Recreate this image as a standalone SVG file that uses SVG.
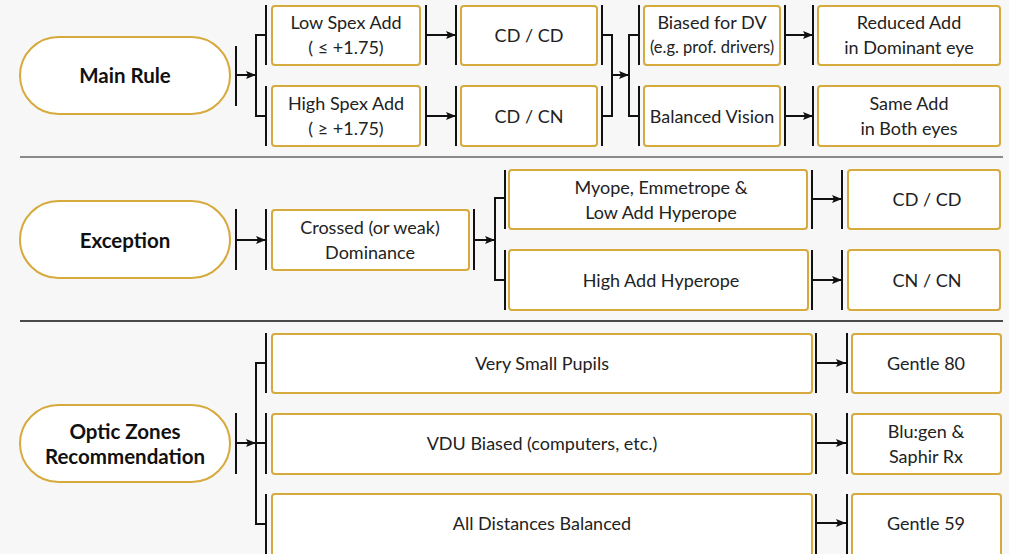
<svg xmlns="http://www.w3.org/2000/svg" width="1009" height="554" viewBox="0 0 1009 554">
<defs>
<marker id="ah" viewBox="0 0 10 10" refX="10" refY="5" markerWidth="10" markerHeight="10" markerUnits="userSpaceOnUse" orient="auto"><path d="M0,1 L10,5 L0,9 L2,5 Z" fill="#111"/></marker>
<style>
.bg{fill:#f7f7f7}
.pill{fill:#fff;stroke:#d6aa3c;stroke-width:2}
.box{fill:#fff;stroke:#d6aa3c;stroke-width:2}
.t{font-family:"Lato","Liberation Sans",sans-serif;font-size:18px;fill:#222;text-anchor:middle;dominant-baseline:central}
.ts{font-size:16.5px}
.tb{font-family:"Lato","Liberation Sans",sans-serif;font-size:20.5px;font-weight:bold;fill:#111;text-anchor:middle;dominant-baseline:central}
.bar{stroke:#111;stroke-width:2;fill:none}
.ln{stroke:#111;stroke-width:2;fill:none}
.arr{stroke:#111;stroke-width:2;fill:none;marker-end:url(#ah)}
.sep1{stroke:#666;stroke-width:1.5}
.sep2{stroke:#111;stroke-width:1.5}
</style>
</defs>
<rect class="bg" x="0" y="0" width="1009" height="554"/>
<line class="sep1" x1="20" y1="157" x2="1003" y2="157"/>
<line class="sep2" x1="20" y1="321" x2="1003" y2="321"/>

<g id="main-rule"><rect class="pill" x="20" y="37" width="210" height="77" rx="38.5"/><text class="tb" x="125" y="75">Main Rule</text></g>
<g id="low-spex"><rect class="box" x="272" y="6" width="148" height="59" rx="3"/><text class="t" x="346" y="22">Low Spex Add</text><text class="t" x="346" y="47">( ≤  +1.75)</text></g>
<g id="high-spex"><rect class="box" x="272" y="86" width="148" height="60" rx="3"/><text class="t" x="346" y="103">High Spex Add</text><text class="t" x="346" y="128">( ≥  +1.75)</text></g>
<g id="cdcd1"><rect class="box" x="461" y="6" width="136" height="59" rx="3"/><text class="t" x="529" y="35">CD / CD</text></g>
<g id="cdcn"><rect class="box" x="461" y="86" width="136" height="60" rx="3"/><text class="t" x="529" y="116">CD / CN</text></g>
<g id="biased-dv"><rect class="box" x="644" y="6" width="136" height="59" rx="3"/><text class="t" x="712" y="22">Biased for DV</text><text class="t ts" x="712" y="47">(e.g. prof. drivers)</text></g>
<g id="balanced-vision"><rect class="box" x="644" y="86" width="136" height="60" rx="3"/><text class="t" x="712" y="116">Balanced Vision</text></g>
<g id="reduced-add"><rect class="box" x="818" y="6" width="182" height="59" rx="3"/><text class="t" x="909" y="22">Reduced Add</text><text class="t" x="909" y="47">in Dominant eye</text></g>
<g id="same-add"><rect class="box" x="818" y="86" width="182" height="60" rx="3"/><text class="t" x="909" y="103">Same Add</text><text class="t" x="909" y="128">in Both eyes</text></g>

<g id="exception"><rect class="pill" x="20" y="201" width="210" height="77" rx="38.5"/><text class="tb" x="125" y="240">Exception</text></g>
<g id="crossed"><rect class="box" x="272" y="210" width="197" height="60" rx="3"/><text class="t" x="370" y="227">Crossed (or weak)</text><text class="t" x="370" y="252">Dominance</text></g>
<g id="myope"><rect class="box" x="509" y="170" width="298" height="59" rx="3"/><text class="t" x="661" y="187">Myope, Emmetrope &amp;</text><text class="t" x="661" y="212">Low Add Hyperope</text></g>
<g id="high-add"><rect class="box" x="509" y="250" width="299" height="60" rx="3"/><text class="t" x="661" y="280">High Add Hyperope</text></g>
<g id="cdcd2"><rect class="box" x="848" y="170" width="152" height="59" rx="3"/><text class="t" x="927" y="199">CD / CD</text></g>
<g id="cncn"><rect class="box" x="848" y="250" width="152" height="60" rx="3"/><text class="t" x="927" y="280">CN / CN</text></g>

<g id="optic-zones"><rect class="pill" x="20" y="405" width="210" height="77" rx="38.5"/><text class="tb" x="125" y="431">Optic Zones</text><text class="tb" x="125" y="456">Recommendation</text></g>
<g id="small-pupils"><rect class="box" x="272" y="334" width="540" height="59" rx="3"/><text class="t" x="542" y="363">Very Small Pupils</text></g>
<g id="vdu"><rect class="box" x="272" y="414" width="540" height="60" rx="3"/><text class="t" x="542" y="443">VDU Biased (computers, etc.)</text></g>
<g id="all-dist"><rect class="box" x="272" y="494" width="540" height="62" rx="3"/><text class="t" x="542" y="523">All Distances Balanced</text></g>
<g id="gentle80"><rect class="box" x="852" y="334" width="149" height="59" rx="3"/><text class="t" x="926" y="363">Gentle 80</text></g>
<g id="blugen"><rect class="box" x="852" y="414" width="149" height="60" rx="3"/><text class="t" x="926" y="431">Blu:gen &amp;</text><text class="t" x="926" y="456">Saphir Rx</text></g>
<g id="gentle59"><rect class="box" x="852" y="494" width="149" height="62" rx="3"/><text class="t" x="926" y="523">Gentle 59</text></g>

<g id="connectors">
<line class="bar" x1="236" y1="46" x2="236" y2="106"/>
<line class="arr" x1="236" y1="75" x2="256" y2="75"/>
<path class="ln" d="M266,35 H256 V116 H266"/>
<line class="bar" x1="266" y1="5" x2="266" y2="65"/>
<line class="bar" x1="266" y1="86" x2="266" y2="146"/>
<line class="bar" x1="426" y1="5" x2="426" y2="65"/>
<line class="bar" x1="426" y1="86" x2="426" y2="146"/>
<line class="arr" x1="426" y1="35" x2="456" y2="35"/>
<line class="arr" x1="426" y1="116" x2="456" y2="116"/>
<line class="bar" x1="456" y1="5" x2="456" y2="65"/>
<line class="bar" x1="456" y1="86" x2="456" y2="146"/>
<line class="bar" x1="602" y1="5" x2="602" y2="65"/>
<line class="bar" x1="602" y1="86" x2="602" y2="146"/>
<path class="ln" d="M602,35 H612 V116 H602"/>
<line class="arr" x1="612" y1="75" x2="629" y2="75"/>
<path class="ln" d="M639,35 H629 V116 H639"/>
<line class="bar" x1="639" y1="5" x2="639" y2="65"/>
<line class="bar" x1="639" y1="86" x2="639" y2="146"/>
<line class="bar" x1="785" y1="5" x2="785" y2="65"/>
<line class="bar" x1="785" y1="86" x2="785" y2="146"/>
<line class="arr" x1="785" y1="35" x2="813" y2="35"/>
<line class="arr" x1="785" y1="116" x2="813" y2="116"/>
<line class="bar" x1="813" y1="5" x2="813" y2="65"/>
<line class="bar" x1="813" y1="86" x2="813" y2="146"/>
<line class="bar" x1="236" y1="209" x2="236" y2="270"/>
<line class="arr" x1="236" y1="240" x2="266" y2="240"/>
<line class="bar" x1="266" y1="209" x2="266" y2="270"/>
<line class="bar" x1="474" y1="209" x2="474" y2="270"/>
<line class="arr" x1="474" y1="240" x2="495" y2="240"/>
<path class="ln" d="M505,198 H495 V280 H505"/>
<line class="bar" x1="505" y1="170" x2="505" y2="229"/>
<line class="bar" x1="505" y1="250" x2="505" y2="310"/>
<line class="bar" x1="812" y1="170" x2="812" y2="229"/>
<line class="bar" x1="812" y1="250" x2="812" y2="310"/>
<line class="arr" x1="812" y1="199" x2="842" y2="199"/>
<line class="arr" x1="812" y1="280" x2="842" y2="280"/>
<line class="bar" x1="842" y1="170" x2="842" y2="229"/>
<line class="bar" x1="842" y1="250" x2="842" y2="310"/>
<line class="bar" x1="236" y1="413" x2="236" y2="474"/>
<line class="arr" x1="236" y1="443" x2="256" y2="443"/>
<path class="ln" d="M266,363 H256 V524 H266"/>
<line class="ln" x1="256" y1="443" x2="266" y2="443"/>
<line class="bar" x1="266" y1="333" x2="266" y2="393"/>
<line class="bar" x1="266" y1="413" x2="266" y2="474"/>
<line class="bar" x1="266" y1="494" x2="266" y2="556"/>
<line class="bar" x1="816" y1="333" x2="816" y2="393"/>
<line class="bar" x1="816" y1="413" x2="816" y2="474"/>
<line class="bar" x1="816" y1="494" x2="816" y2="556"/>
<line class="arr" x1="816" y1="363" x2="846" y2="363"/>
<line class="arr" x1="816" y1="443" x2="846" y2="443"/>
<line class="arr" x1="816" y1="523" x2="846" y2="523"/>
<line class="bar" x1="847" y1="333" x2="847" y2="393"/>
<line class="bar" x1="847" y1="413" x2="847" y2="474"/>
<line class="bar" x1="847" y1="494" x2="847" y2="556"/>
</g>
</svg>
